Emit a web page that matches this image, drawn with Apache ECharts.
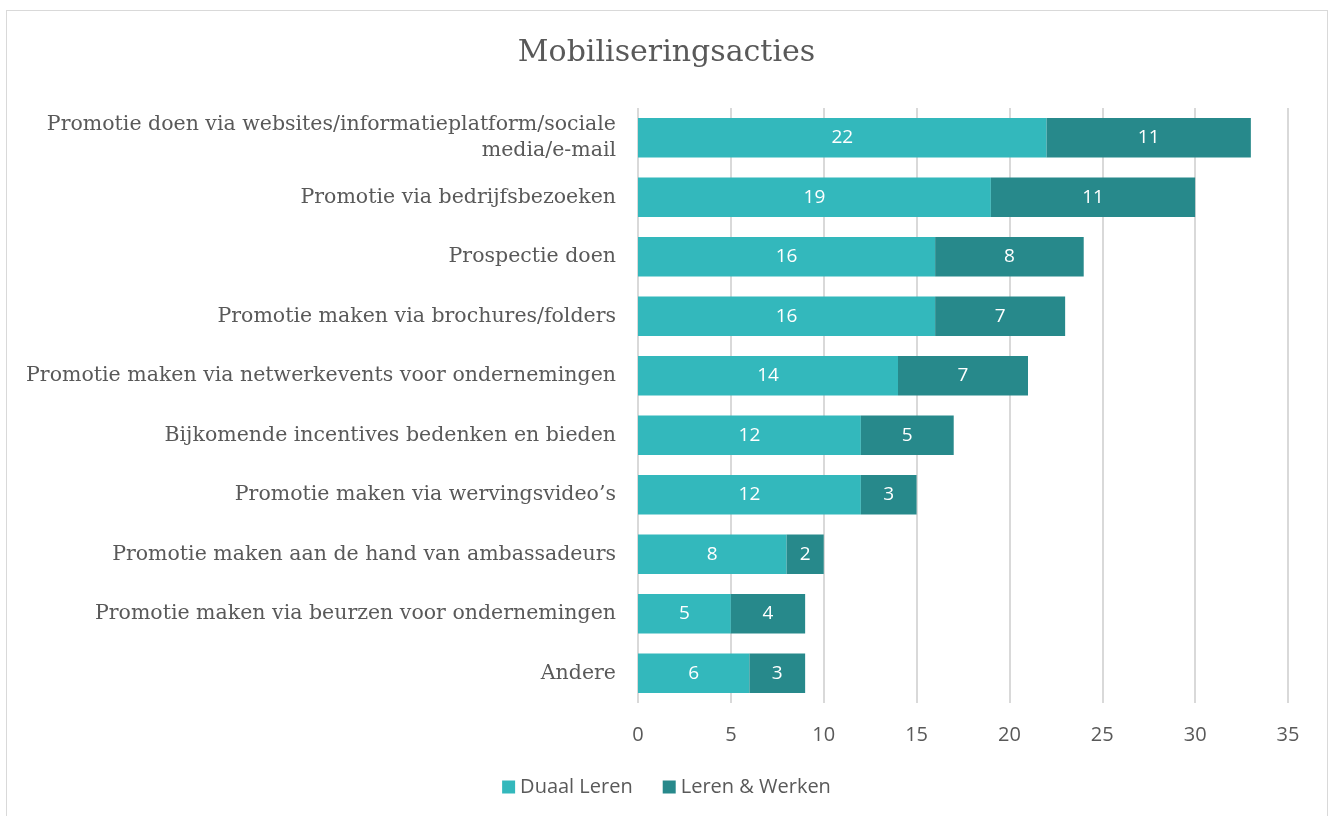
<!DOCTYPE html>
<html>
<head>
<meta charset="utf-8">
<script src="https://cdn.jsdelivr.net/npm/echarts@6/dist/echarts.min.js"></script>
<style>
	html, body { margin: 0; padding: 0; background: #fff; }
	#frame {
		position: absolute;
		left: 6px;
		top: 10px;
		width: 1322px;
		height: 820px;
		border: 1px solid #d9d9d9;
		box-sizing: border-box;
	}
	#chart { position: absolute; left: 0; top: 0; width: 1333px; height: 816px; }
</style>
</head>
<body>
<div id="frame"></div>
<div id="chart"></div>
<script>
// categorieën (van boven naar onder)
const categories = [
	"Promotie doen via websites/informatieplatform/sociale\nmedia/e-mail",
	"Promotie via bedrijfsbezoeken",
	"Prospectie doen",
	"Promotie maken via brochures/folders",
	"Promotie maken via netwerkevents voor ondernemingen",
	"Bijkomende incentives bedenken en bieden",
	"Promotie maken via wervingsvideo’s",
	"Promotie maken aan de hand van ambassadeurs",
	"Promotie maken via beurzen voor ondernemingen",
	"Andere"
];
// reeksen
const duaalLeren = [22, 19, 16, 16, 14, 12, 12, 8, 5, 6];
const lerenWerken = [11, 11, 8, 7, 7, 5, 3, 2, 4, 3];
const seriesNames = ["Duaal Leren", "Leren & Werken"];
const colors = ["#33b8bc", "#27898b"];

const serifFont = "'DejaVu Serif', serif";
const sansFont = "'Open Sans', sans-serif";

const chart = echarts.init(document.getElementById("chart"), null, { renderer: "canvas" });

function makeSeries(name, data, color) {
	return {
		name: name,
		type: "bar",
		stack: "totaal",
		data: data,
		barCategoryGap: "34%",
		itemStyle: { color: color },
		label: {
			show: true,
			position: "inside",
			color: "#fff",
			fontFamily: sansFont,
			fontSize: 19,
		},
	};
}

chart.setOption({
	animation: false,
	title: {
		text: "Mobiliseringsacties",
		left: "center",
		top: 33,
		textStyle: {
			fontFamily: serifFont,
			fontWeight: "normal",
			fontSize: 30,
			color: "#595959",
		},
	},
	legend: {
		bottom: 14,
		left: "center",
		itemWidth: 13,
		itemHeight: 13,
		itemGap: 30,
		icon: "rect",
		textStyle: { fontFamily: sansFont, fontSize: 20, color: "#595959" },
		data: seriesNames,
	},
	grid: {
		left: 638,
		right: 45,
		top: 108,
		bottom: 113,
	},
	xAxis: {
		type: "value",
		min: 0,
		max: 35,
		interval: 5,
		axisLine: { show: false },
		axisTick: { show: false },
		splitLine: { lineStyle: { color: "#d9d9d9", width: 2 } },
		axisLabel: {
			fontFamily: sansFont,
			fontSize: 20,
			color: "#595959",
			margin: 22,
		},
	},
	yAxis: {
		type: "category",
		inverse: true,
		data: categories,
		axisLine: { show: false },
		axisTick: { show: false },
		axisLabel: {
			fontFamily: serifFont,
			fontSize: 20.5,
			color: "#595959",
			margin: 22,
			lineHeight: 26,
			align: "right",
		},
	},
	series: [
		makeSeries(seriesNames[0], duaalLeren, colors[0]),
		makeSeries(seriesNames[1], lerenWerken, colors[1]),
	],
});
</script>
</body>
</html>
